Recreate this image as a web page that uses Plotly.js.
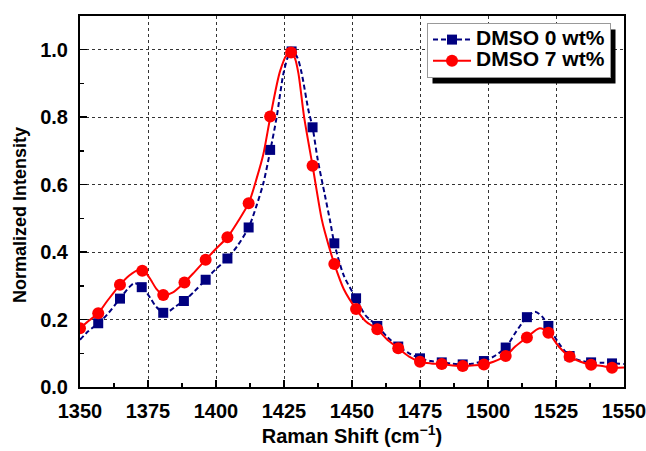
<!DOCTYPE html>
<html>
<head>
<meta charset="utf-8">
<script src="https://cdn.plot.ly/plotly-3.0.1.min.js"></script>
<style>html,body{margin:0;padding:0;background:#fff;}#chart{width:646px;height:451px;}</style>
</head>
<body>
<div id="chart"></div>
<script>
// Series names
const seriesNames = ["DMSO 0 wt%", "DMSO 7 wt%"];

// DMSO 0 wt% — smooth curve samples
const lineX0 = [1350,1353,1356.7,1360,1364.7,1368,1370,1372.7,1376,1378,1380.6,1383,1385,1388.2,1392,1396.2,1400,1404.2,1408,1412,1415,1417.4,1420,1422.3,1424.8,1426.5,1428,1430,1431.5,1434,1435.5,1437.4,1440,1442,1443.5,1447,1451.5,1455,1459.3,1463,1467,1471,1475,1479,1483,1487,1490.7,1494,1498.5,1502,1506.5,1510,1514.3,1517.3,1520,1522.2,1526,1530,1534,1537.9,1542,1545.6,1550];
const lineY0 = [0.140,0.165,0.189,0.215,0.262,0.295,0.308,0.298,0.262,0.238,0.221,0.226,0.238,0.255,0.283,0.318,0.350,0.381,0.420,0.473,0.540,0.604,0.703,0.800,0.930,0.980,0.998,0.975,0.930,0.820,0.770,0.674,0.570,0.490,0.426,0.330,0.263,0.212,0.181,0.148,0.120,0.100,0.085,0.077,0.073,0.069,0.067,0.069,0.077,0.090,0.117,0.160,0.207,0.223,0.208,0.181,0.130,0.092,0.078,0.073,0.072,0.070,0.068];
// DMSO 0 wt% — marker samples
const markX0 = [1356.7,1364.7,1372.7,1380.6,1388.2,1396.2,1404.2,1412,1419.9,1427.8,1435.5,1443.5,1451.5,1459.3,1467,1475,1483,1490.7,1498.5,1506.5,1514.3,1522.2,1530,1537.9,1545.6];
const markY0 = [0.189,0.262,0.296,0.220,0.255,0.318,0.381,0.473,0.703,0.995,0.770,0.426,0.263,0.181,0.120,0.085,0.073,0.067,0.077,0.117,0.207,0.181,0.092,0.073,0.070];

// DMSO 7 wt% — smooth curve samples
const lineX7 = [1350,1353,1356.7,1360,1364.7,1368,1371.5,1374,1376,1378,1380.6,1384,1388.4,1392,1396.2,1400,1404.2,1408,1412,1415,1417.4,1420,1423.5,1426,1427.6,1429,1430.3,1432.4,1435.5,1438.8,1440,1443.5,1447,1451.5,1455,1459.3,1463,1467,1471,1475,1479,1483,1487,1490.7,1494,1498.5,1502,1506.5,1510,1514.3,1519,1522.2,1526,1530,1534,1537.9,1542,1545.6,1550];
const lineY7 = [0.174,0.195,0.219,0.255,0.303,0.330,0.347,0.340,0.318,0.292,0.273,0.280,0.310,0.340,0.377,0.410,0.444,0.490,0.545,0.620,0.690,0.802,0.935,0.985,0.993,0.975,0.930,0.800,0.656,0.500,0.460,0.365,0.290,0.231,0.195,0.171,0.140,0.115,0.090,0.075,0.070,0.068,0.064,0.062,0.064,0.067,0.075,0.092,0.120,0.147,0.174,0.161,0.120,0.090,0.075,0.066,0.062,0.057,0.058];
// DMSO 7 wt% — marker samples
const markX7 = [1350,1356.7,1364.7,1372.9,1380.6,1388.4,1396.2,1404.2,1412,1419.9,1427.6,1435.5,1443.5,1451.5,1459.3,1467,1475,1483,1490.7,1498.5,1506.5,1514.3,1522.2,1530,1537.9,1545.6];
const markY7 = [0.174,0.219,0.303,0.345,0.273,0.310,0.377,0.444,0.545,0.802,0.992,0.656,0.365,0.231,0.171,0.115,0.075,0.068,0.062,0.067,0.092,0.147,0.161,0.090,0.066,0.057];

// Axis ticks
const xTicks = [1350,1375,1400,1425,1450,1475,1500,1525,1550];
const yTicks = [0.0,0.2,0.4,0.6,0.8,1.0];

const BLUE = "#000080", RED = "#ff0000";
const FONT = "Liberation Sans, Arial, sans-serif";
const big = s => '<span style="font-size:21px">' + s + '</span>';

const traces = [
  {x: lineX0, y: lineY0, mode: "lines", line: {color: BLUE, width: 2, dash: "5px,3px", shape: "spline", smoothing: 0.8}, showlegend: false, hoverinfo: "skip"},
  {x: markX0, y: markY0, mode: "markers", marker: {symbol: "square", size: 10, color: BLUE}, showlegend: false},
  {x: lineX7, y: lineY7, mode: "lines", line: {color: RED, width: 2, shape: "spline", smoothing: 0.8}, showlegend: false, hoverinfo: "skip"},
  {x: markX7, y: markY7, mode: "markers", marker: {symbol: "circle", size: 12, color: RED}, showlegend: false},
  // legend entries
  {x: [null], y: [null], mode: "lines+markers", name: big(seriesNames[0]), line: {color: BLUE, width: 2, dash: "5px,3px"}, marker: {symbol: "square", size: 10, color: BLUE}},
  {x: [null], y: [null], mode: "lines+markers", name: big(seriesNames[1]), line: {color: RED, width: 2}, marker: {symbol: "circle", size: 12, color: RED}}
];

// plot area: x 80..624, y 16..387
const px = v => (v - 80) / 544;
const py = v => (387 - v) / 371;

const layout = {
  width: 646, height: 451, autosize: false,
  margin: {l: 80, r: 22, t: 16, b: 64},
  paper_bgcolor: "#fff", plot_bgcolor: "#fff",
  font: {family: FONT, color: "#000", size: 20, weight: "bold"},
  xaxis: {
    range: [1350, 1550], tickvals: xTicks, ticktext: xTicks.map(String),
    showgrid: true, gridcolor: "#333", griddash: "dot", gridwidth: 1,
    ticks: "inside", ticklen: 7, tickwidth: 1.5, tickcolor: "#000",
    minor: {dtick: 12.5, tick0: 1350, ticks: "inside", ticklen: 4, tickwidth: 1.5, tickcolor: "#000", showgrid: false},
    showline: true, linecolor: "#000", linewidth: 2, mirror: true, zeroline: false,
    tickfont: {family: FONT, size: 20, weight: "bold"}, ticklabelstandoff: 5, ticklabeloverflow: "allow",
    title: {text: "Raman Shift (cm<sup>−1</sup>)", font: {family: FONT, size: 20, weight: "bold"}, standoff: 8}
  },
  yaxis: {
    range: [0, 1.1], tickvals: yTicks, ticktext: yTicks.map(v => v.toFixed(1)),
    showgrid: true, gridcolor: "#333", griddash: "dot", gridwidth: 1,
    ticks: "inside", ticklen: 7, tickwidth: 1.5, tickcolor: "#000",
    minor: {dtick: 0.1, tick0: 0, ticks: "inside", ticklen: 4, tickwidth: 1.5, tickcolor: "#000", showgrid: false},
    showline: true, linecolor: "#000", linewidth: 2, mirror: true, zeroline: false,
    tickfont: {family: FONT, size: 20, weight: "bold"}, ticklabelstandoff: 6
  },
  annotations: [
    {text: "Normalized Intensity", xref: "paper", yref: "paper", x: px(20), y: py(215), xanchor: "center", yanchor: "middle",
     textangle: -90, showarrow: false, font: {family: FONT, size: 18, weight: "bold"}}
  ],
  legend: {
    x: px(611), xanchor: "right", y: py(23), yanchor: "top",
    bgcolor: "#fff", bordercolor: "#999", borderwidth: 1, itemwidth: 38,
    font: {family: FONT, size: 14, weight: "bold"}, tracegroupgap: 0
  },
  showlegend: true
};

Plotly.newPlot("chart", traces, layout, {displayModeBar: false, staticPlot: true}).then(gd => {
  // drop shadow behind the legend box, offset 5px right / 6px down
  const bg = gd.querySelector(".legend rect.bg");
  if (!bg) return;
  const r = bg.getBoundingClientRect();
  const c = gd.getBoundingClientRect();
  const L = r.left - c.left, R = r.right - c.left, T = r.top - c.top, B = r.bottom - c.top;
  return Plotly.relayout(gd, {shapes: [
    {type: "rect", xref: "paper", yref: "paper", x0: px(L + 5), x1: px(R + 5), y0: py(B + 6), y1: py(T + 6),
     fillcolor: "#000", line: {width: 0}, layer: "above"}
  ]});
});
</script>
</body>
</html>
